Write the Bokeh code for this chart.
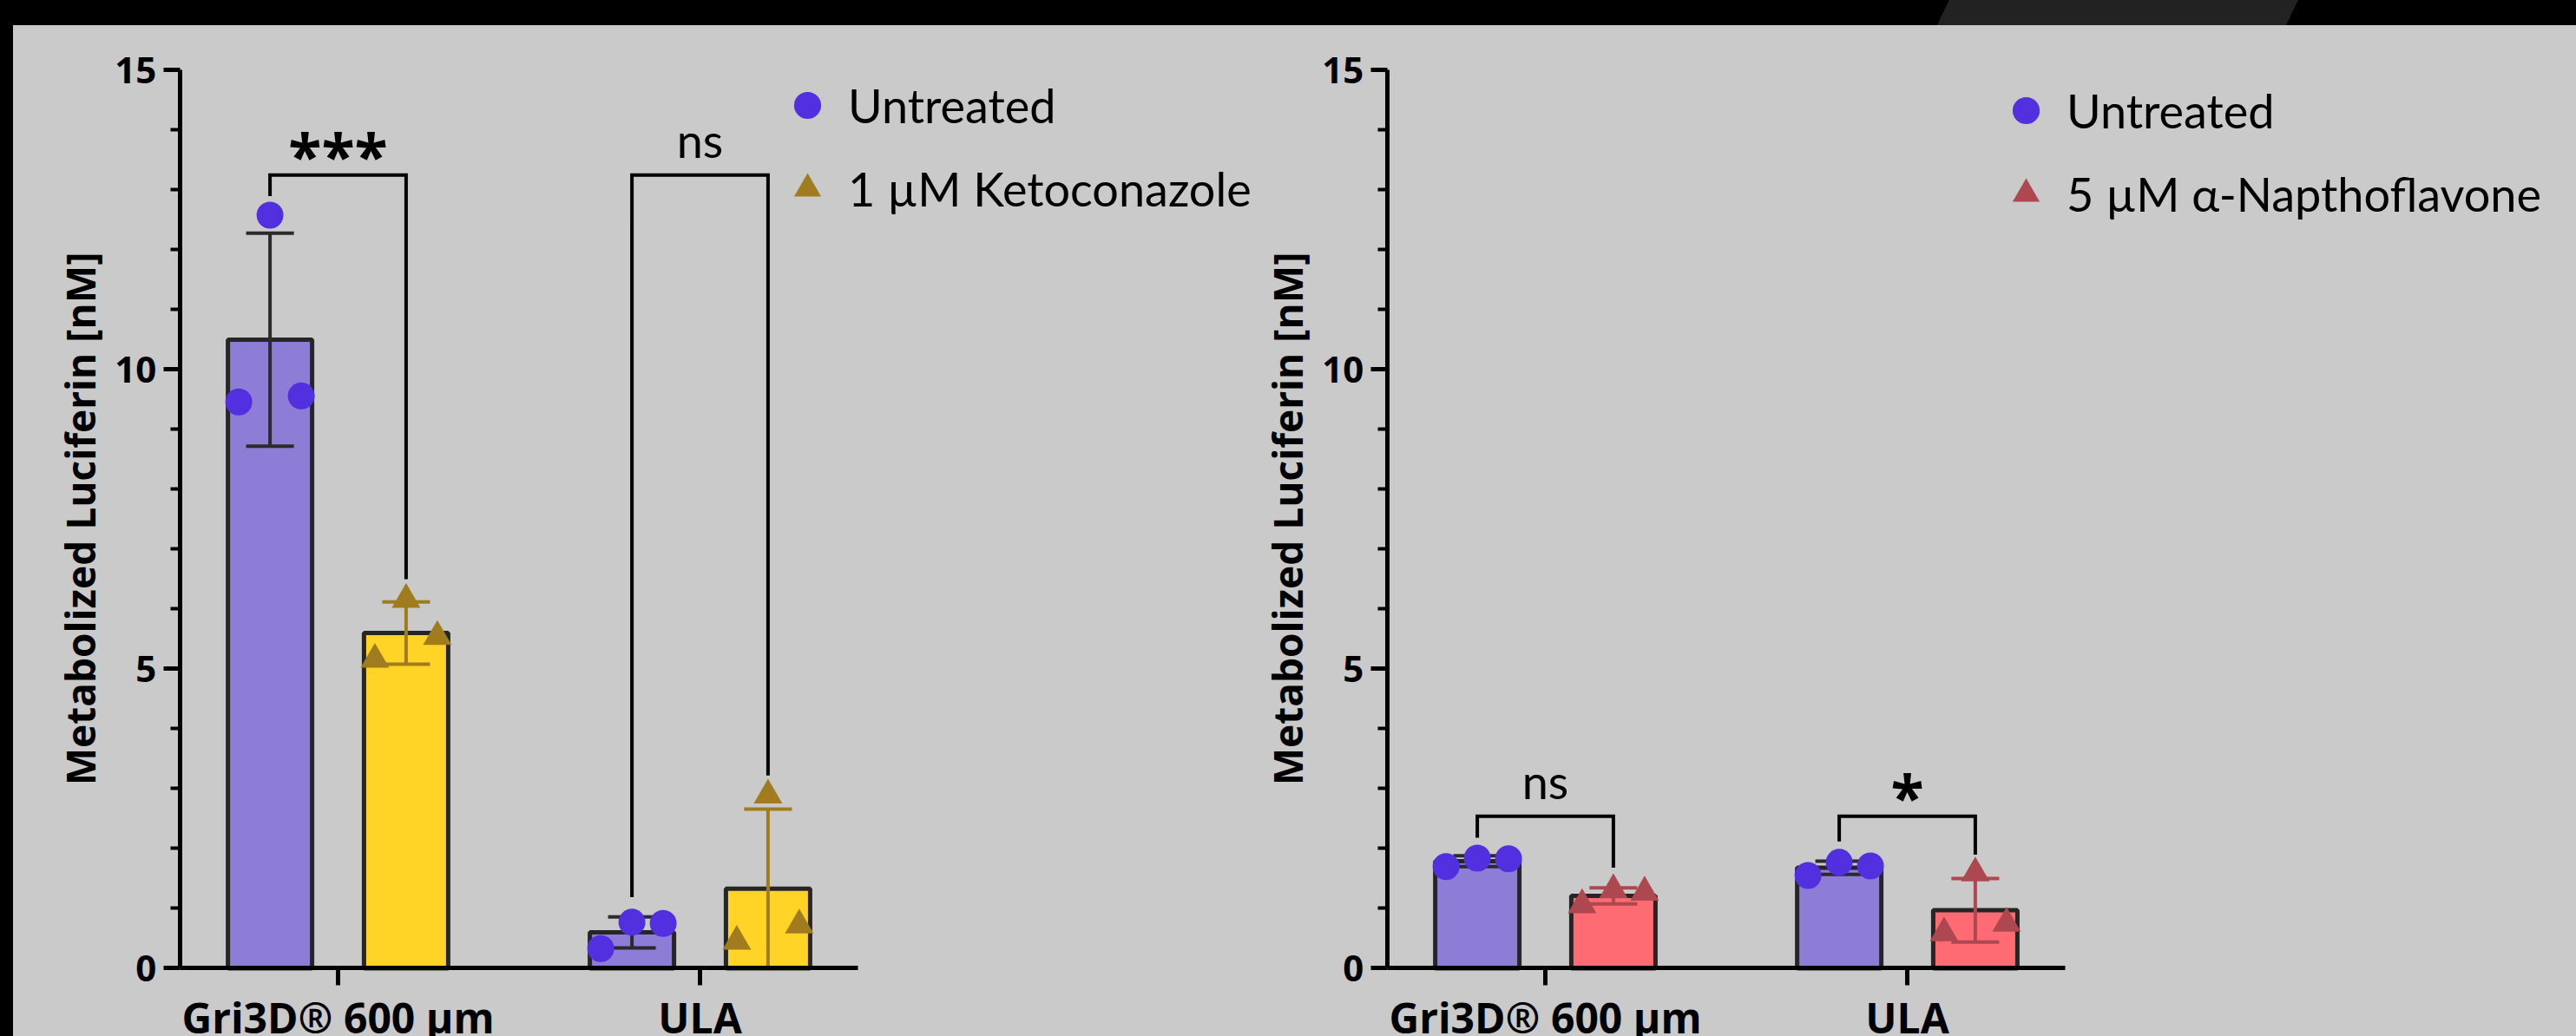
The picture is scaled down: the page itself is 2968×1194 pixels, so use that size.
from bokeh.plotting import figure
from bokeh.models import Range1d, FixedTicker, Legend, LegendItem, Div
from bokeh.layouts import row, column
from bokeh.embed import file_html
from bokeh.resources import INLINE
from bokeh.core.properties import value

# ---------------- data ----------------
categories = ["Gri3D® 600 µm", "ULA"]
y_label = "Metabolized Luciferin [nM]"
y_major_ticks = [0, 5, 10, 15]
y_minor_ticks = [1, 2, 3, 4, 6, 7, 8, 9, 11, 12, 13, 14]
untreated_label = "Untreated"

# left panel: Ketoconazole
keto_label = "1 µM Ketoconazole"
keto_untreated_points = [[9.46, 12.58, 9.56], [0.33, 0.77, 0.75]]
keto_untreated_mean = [10.5, 0.6]
keto_untreated_sd = [1.78, 0.26]
keto_treated_points = [[5.16, 6.16, 5.54], [0.45, 2.89, 0.72]]
keto_treated_mean = [5.6, 1.33]
keto_treated_sd = [0.52, 1.33]
keto_sig_labels = ["***", "ns"]
keto_sig_top = [13.25, 13.25]
keto_sig_left_end = [12.9, 1.19]
keto_sig_right_end = [6.5, 3.22]

# right panel: alpha-Napthoflavone
anf_label = "5 µM α-Napthoflavone"
anf_untreated_points = [[1.70, 1.84, 1.83], [1.55, 1.77, 1.71]]
anf_untreated_mean = [1.79, 1.68]
anf_untreated_sd = [0.09, 0.11]
anf_treated_points = [[1.06, 1.31, 1.27], [0.59, 1.59, 0.75]]
anf_treated_mean = [1.21, 0.97]
anf_treated_sd = [0.135, 0.53]
anf_sig_labels = ["ns", "*"]
anf_sig_top = [2.54, 2.54]
anf_sig_left_end = [2.18, 2.12]
anf_sig_right_end = [1.68, 1.90]

# ---------------- layout / style constants ----------------
CAT_X = [1, 2]
X_AXIS_BOUNDS = (0.563, 2.437)
Y_AXIS_BOUNDS = (0, 15)
BAR_OFF = 0.188
BAR_W = 0.2326
JITTER = [-0.0863, 0.0, 0.0863]
CAP_HALF = 0.066
NS_LIFT = 0.58
STAR_LIFT = 0.35
BG = "#cacaca"
EDGE = "#262626"
UNT_FILL = "#8e7dd6"
UNT_MARK = "#5230e0"
UNT_ERR = "#2b2b2b"
FIG_H = 1165
Y_RANGE = (-1.1377, 15.746)


def make_panel(width, x_range, treat_label, treat_fill, treat_mark,
               unt_pts, unt_mean, unt_sd, trt_pts, trt_mean, trt_sd,
               sig_labels, sig_top, sig_left, sig_right, legend_loc):
    p = figure(width=width, height=FIG_H, title=None,
               x_range=Range1d(*x_range), y_range=Range1d(*Y_RANGE),
               output_backend="svg", toolbar_location=None,
               min_border_left=0, min_border_right=0,
               min_border_top=0, min_border_bottom=0,
               background_fill_color=BG, border_fill_color=BG,
               outline_line_color=None)
    p.grid.visible = False

    ya = p.yaxis[0]
    ya.fixed_location = X_AXIS_BOUNDS[0]
    ya.bounds = Y_AXIS_BOUNDS
    ya.ticker = FixedTicker(ticks=y_major_ticks, minor_ticks=y_minor_ticks)
    ya.axis_line_width = 5
    ya.axis_line_color = "black"
    ya.major_tick_line_width = 5
    ya.minor_tick_line_width = 4
    ya.major_tick_out = 19
    ya.major_tick_in = 0
    ya.minor_tick_out = 11
    ya.minor_tick_in = 0
    ya.major_label_text_font = "Open Sans"
    ya.major_label_text_font_style = "bold"
    ya.major_label_text_font_size = "42px"
    ya.major_label_text_color = "black"
    ya.major_label_standoff = 8
    ya.axis_label = y_label
    ya.axis_label_text_font = "Open Sans"
    ya.axis_label_text_font_style = "bold"
    ya.axis_label_text_font_size = "46px"
    ya.axis_label_text_color = "black"
    ya.axis_label_standoff = 6

    xa = p.xaxis[0]
    xa.fixed_location = Y_AXIS_BOUNDS[0]
    xa.bounds = X_AXIS_BOUNDS
    xa.ticker = FixedTicker(ticks=CAT_X)
    xa.axis_line_width = 5
    xa.axis_line_color = "black"
    xa.major_tick_line_width = 5
    xa.major_tick_out = 20
    xa.major_tick_in = 0
    xa.minor_tick_out = 0
    xa.minor_tick_in = 0
    xa.major_label_overrides = {c: name for c, name in zip(CAT_X, categories)}
    xa.major_label_text_font = "Open Sans"
    xa.major_label_text_font_style = "bold"
    xa.major_label_text_font_size = "48px"
    xa.major_label_text_color = "black"
    xa.major_label_standoff = 4

    # bars
    xu = [c - BAR_OFF for c in CAT_X]
    xt = [c + BAR_OFF for c in CAT_X]
    p.vbar(x=xu, top=unt_mean, width=BAR_W, fill_color=UNT_FILL,
           line_color=EDGE, line_width=5)
    p.vbar(x=xt, top=trt_mean, width=BAR_W, fill_color=treat_fill,
           line_color=EDGE, line_width=5)

    # error bars (mean +/- SD)
    for xs, m, s, col in [(xu, unt_mean, unt_sd, UNT_ERR), (xt, trt_mean, trt_sd, treat_mark)]:
        lo = [a - b for a, b in zip(m, s)]
        hi = [a + b for a, b in zip(m, s)]
        p.segment(x0=xs, y0=lo, x1=xs, y1=hi, line_color=col, line_width=4)
        p.segment(x0=[x - CAP_HALF for x in xs], y0=hi, x1=[x + CAP_HALF for x in xs], y1=hi,
                  line_color=col, line_width=4)
        p.segment(x0=[x - CAP_HALF for x in xs], y0=lo, x1=[x + CAP_HALF for x in xs], y1=lo,
                  line_color=col, line_width=4)

    # individual points
    ux = [x + j for x in xu for j in JITTER]
    uy = [v for grp in unt_pts for v in grp]
    tx = [x + j for x in xt for j in JITTER]
    ty = [v for grp in trt_pts for v in grp]
    r_u = p.scatter(ux, uy, marker="circle", size=31, fill_color=UNT_MARK, line_color=None)
    r_t = p.scatter(tx, ty, marker="triangle", size=33, fill_color=treat_mark, line_color=None)

    # significance brackets
    bxs = [[c - BAR_OFF, c - BAR_OFF, c + BAR_OFF, c + BAR_OFF] for c in CAT_X]
    bys = [[l, t, t, r] for l, t, r in zip(sig_left, sig_top, sig_right)]
    p.multi_line(bxs, bys, line_color="black", line_width=4, line_join="miter")
    for c, lab, t in zip(CAT_X, sig_labels, sig_top):
        if lab == "ns":
            p.text(x=[c], y=[t + NS_LIFT], text=[lab], text_align="center",
                   text_baseline="alphabetic", text_font=value("Lato"),
                   text_font_size="54px", text_color="black")
        else:
            p.text(x=[c], y=[t + STAR_LIFT], text=[lab], text_align="center",
                   text_baseline="alphabetic", text_font=value("Open Sans"),
                   text_font_style="bold", text_font_size="70px", text_color="black")

    legend = Legend(items=[LegendItem(label=untreated_label, renderers=[r_u]),
                           LegendItem(label=treat_label, renderers=[r_t])],
                    location=legend_loc, padding=0, margin=0, spacing=18,
                    glyph_width=78, glyph_height=78, label_standoff=8,
                    label_text_font="Lato", label_text_font_size="54px",
                    label_text_color="black", border_line_alpha=0,
                    background_fill_alpha=0)
    p.add_layout(legend)
    return p


p1 = make_panel(1437, (0.10312, 3.54916), keto_label, "#ffd426", "#a07c1e",
                keto_untreated_points, keto_untreated_mean, keto_untreated_sd,
                keto_treated_points, keto_treated_mean, keto_treated_sd,
                keto_sig_labels, keto_sig_top, keto_sig_left_end, keto_sig_right_end,
                (876, 938))
p2 = make_panel(1516, (0.21343, 3.84892), anf_label, "#ff6b73", "#ad4850",
                anf_untreated_points, anf_untreated_mean, anf_untreated_sd,
                anf_treated_points, anf_treated_mean, anf_treated_sd,
                anf_sig_labels, anf_sig_top, anf_sig_left_end, anf_sig_right_end,
                (843, 932))

top_bar = Div(text="", width=2968, height=29, margin=0,
              styles={"background-color": "#000",
                      "background-image": "linear-gradient(115.8deg, #000 0px, #000 2022px, #222 2022px, #222 2384px, #000 2384px)"})
left_bar = Div(text="", width=15, height=FIG_H, margin=0, styles={"background-color": "#000"})

layout = column(top_bar, row(left_bar, p1, p2, spacing=0, styles={"background-color": BG}),
                spacing=0)

open("out.html", "w").write(file_html(layout, INLINE))
